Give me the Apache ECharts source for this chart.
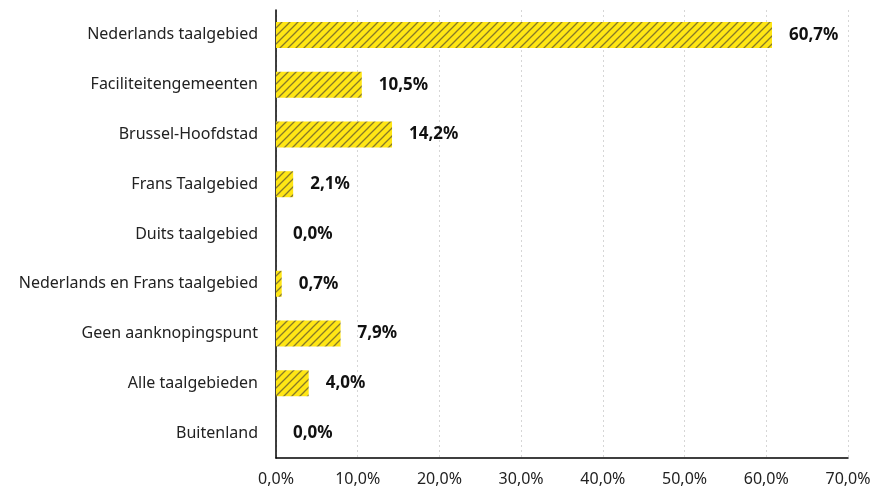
<!DOCTYPE html>
<html>
<head>
<meta charset="utf-8">
<script src="https://cdn.jsdelivr.net/npm/echarts@6/dist/echarts.min.js"></script>
<style>
  html, body { margin: 0; padding: 0; background: #fff; }
  #chart { width: 875px; height: 492px; }
</style>
</head>
<body>
<div id="chart"></div>
<script>
const categories = [
  'Nederlands taalgebied',
  'Faciliteitengemeenten',
  'Brussel-Hoofdstad',
  'Frans Taalgebied',
  'Duits taalgebied',
  'Nederlands en Frans taalgebied',
  'Geen aanknopingspunt',
  'Alle taalgebieden',
  'Buitenland'
]
const values = [60.7, 10.5, 14.2, 2.1, 0.0, 0.7, 7.9, 4.0, 0.0]

// diagonal hatch pattern
function makeHatch() {
  const size = 8
  const c = document.createElement('canvas')
  c.width = size
  c.height = size
  const ctx = c.getContext('2d')
  ctx.fillStyle = '#ffe615'
  ctx.fillRect(0, 0, size, size)
  ctx.strokeStyle = 'rgba(105, 95, 45, 0.8)'
  ctx.lineWidth = 1.3
  ctx.beginPath()
  ctx.moveTo(-1, size + 1); ctx.lineTo(size + 1, -1)
  ctx.moveTo(-1, 1); ctx.lineTo(1, -1)
  ctx.moveTo(size - 1, size + 1); ctx.lineTo(size + 1, size - 1)
  ctx.stroke()
  return c
}

const font = '"Noto Sans", sans-serif'
const chart = echarts.init(document.getElementById('chart'))

const option = {
  animation: false,
  grid: { left: 276, right: 27, top: 10, bottom: 34, containLabel: false },
  xAxis: {
    type: 'value',
    min: 0,
    max: 70,
    interval: 10,
    axisLine: { show: true, lineStyle: { color: '#000', width: 1.5 } },
    axisTick: { show: false },
    axisLabel: {
      color: '#222',
      fontFamily: font,
      fontSize: 16,
      margin: 13,
      formatter: v => v.toFixed(1).replace('.', ',') + '%'
    },
    splitLine: { show: true, lineStyle: { color: '#d6d6d6', type: [2, 3], width: 1 } }
  },
  yAxis: {
    type: 'category',
    inverse: true,
    data: categories,
    axisLine: { show: true, lineStyle: { color: '#000', width: 1.5 } },
    axisTick: { show: false },
    axisLabel: { color: '#222', fontFamily: font, fontSize: 16, margin: 18 }
  },
  series: [{
    type: 'bar',
    data: values,
    barWidth: 26,
    itemStyle: { color: { image: makeHatch(), repeat: 'repeat' } },
    label: {
      show: true,
      position: 'right',
      distance: 17,
      color: '#111',
      fontFamily: font,
      fontWeight: 'bold',
      fontSize: 17,
      formatter: p => p.value.toFixed(1).replace('.', ',') + '%'
    }
  }]
}

chart.setOption(option)
</script>
</body>
</html>
